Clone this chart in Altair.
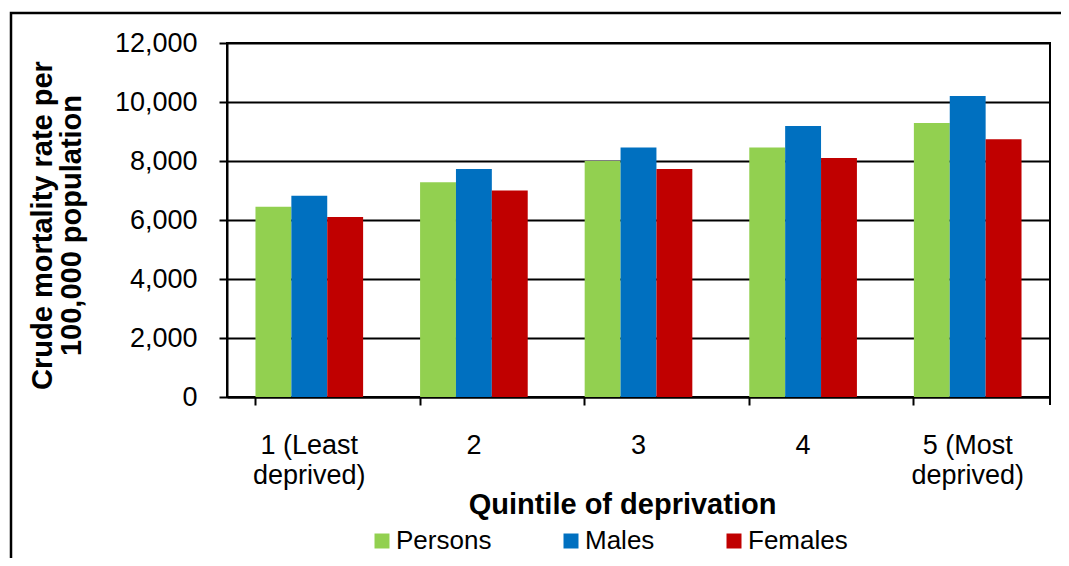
import altair as alt
import pandas as pd

quintiles = ["1 (Least deprived)", "2", "3", "4", "5 (Most deprived)"]
series = ["Persons", "Males", "Females"]
persons = [6450, 7280, 8000, 8460, 9290]
males = [6820, 7730, 8460, 9190, 10200]
females = [6100, 7000, 7730, 8100, 8740]
colors = ["#92D050", "#0070C0", "#C00000"]
y_ticks = [0, 2000, 4000, 6000, 8000, 10000, 12000]

rows = []
for i, q in enumerate(quintiles):
    for s, vals in zip(series, [persons, males, females]):
        rows.append({"quintile": q, "series": s, "value": vals[i]})
df = pd.DataFrame(rows)

FONT = "Liberation Sans"
W, H = 823, 354

bars = alt.Chart(df).mark_bar().encode(
    x=alt.X(
        "quintile:N",
        sort=quintiles,
        scale=alt.Scale(paddingInner=0.346, paddingOuter=0.173),
        axis=alt.Axis(
            title="Quintile of deprivation",
            labelAngle=0,
            bandPosition=0,
            labelExpr="split(replace(datum.label, ' deprived)', '|deprived)'), '|')",
            labelFont=FONT,
            labelFontSize=27,
            labelColor="black",
            labelBaseline="alphabetic",
            labelPadding=48,
            labelLineHeight=30,
            labelOverlap=False,
            tickSize=8,
            tickWidth=2,
            tickColor="black",
            domainColor="black",
            domainWidth=2,
            titleFont=FONT,
            titleFontSize=29,
            titleFontWeight="bold",
            titleColor="black",
            titleX=395,
            titleY=116,
            titleAlign="center",
            titleBaseline="alphabetic",
        ),
    ),
    xOffset=alt.XOffset("series:N", sort=series),
    y=alt.Y(
        "value:Q",
        scale=alt.Scale(domain=[0, 12000], nice=False),
        axis=alt.Axis(
            title=["Crude mortality rate per", "100,000 population"],
            values=y_ticks,
            format=",d",
            grid=True,
            gridColor="black",
            gridWidth=2,
            labelFont=FONT,
            labelFontSize=27,
            labelColor="black",
            labelPadding=22,
            tickSize=8,
            tickWidth=2,
            tickColor="black",
            domainColor="black",
            domainWidth=2,
            titleFont=FONT,
            titleFontSize=29,
            titleFontWeight="bold",
            titleColor="black",
            titleX=-176,
            titleY=182,
            titleAlign="center",
            titleBaseline="alphabetic",
            titleLineHeight=29,
        ),
    ),
    color=alt.Color(
        "series:N",
        sort=series,
        scale=alt.Scale(domain=series, range=colors),
        legend=alt.Legend(
            title=None,
            orient="none",
            direction="horizontal",
            legendX=142,
            legendY=485,
            padding=0,
            symbolType="square",
            symbolSize=225,
            symbolStrokeWidth=0,
            symbolOpacity=1,
            labelFont=FONT,
            labelFontSize=26,
            labelColor="black",
            labelOffset=1,
            columnPadding=66,
        ),
    ),
)

one = pd.DataFrame({"k": [0]})
end_tick = alt.Chart(one).mark_rule(color="black", strokeWidth=2).encode(
    x=alt.value(W), y=alt.value(H), y2=alt.value(H + 8)
)
frame = alt.Chart(one).mark_rect(fill=None, stroke="black", strokeWidth=2.5).encode(
    x=alt.value(-216), x2=alt.value(W + 300), y=alt.value(-30), y2=alt.value(H + 400)
)

chart = alt.layer(frame, bars, end_tick).properties(
    width=W,
    height=H,
    autosize=alt.AutoSizeParams(type="none"),
    padding={"left": 219, "top": 35, "right": 11, "bottom": 161},
    background="white",
).configure_view(stroke="black", strokeWidth=2)

chart.save("out.html", embed_options={"renderer": "svg", "actions": False})
